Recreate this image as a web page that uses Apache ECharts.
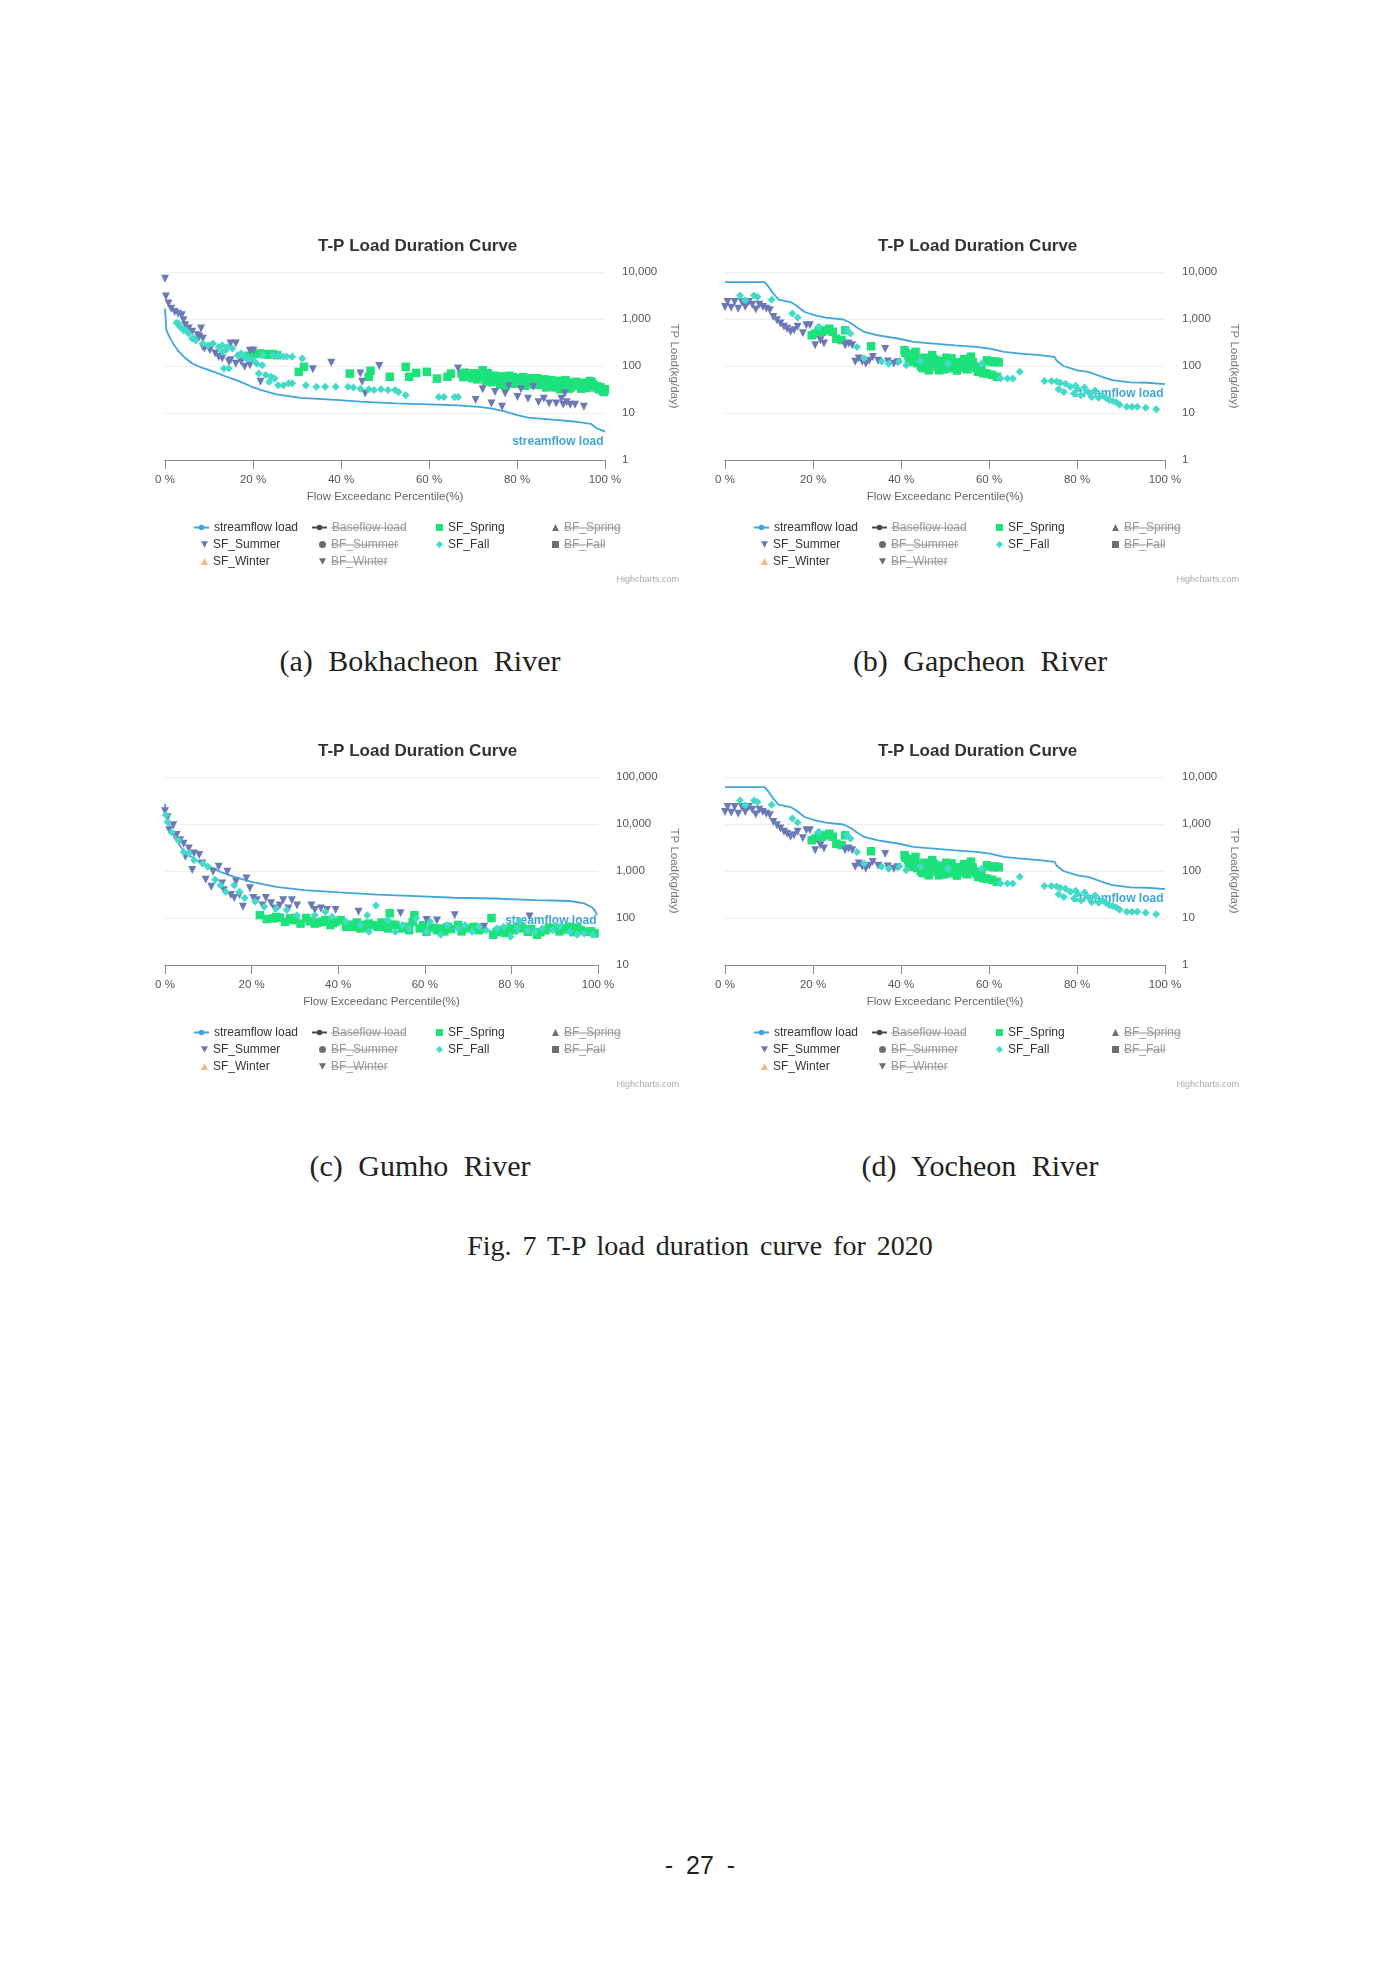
<!DOCTYPE html>
<html>
<head>
<meta charset="utf-8">
<script src="https://cdn.jsdelivr.net/npm/echarts@6/dist/echarts.min.js"></script>
<style>
  body { margin: 0; background: #fff; }
  #page { position: relative; width: 1400px; height: 1980px; background: #fff; }
  .chart { position: absolute; width: 560px; height: 370px; }
  .cap {
    position: absolute; white-space: nowrap; transform: translateX(-50%);
    font-family: "Liberation Serif", "DejaVu Serif", serif; color: #222;
    font-size: 30px; line-height: 32px; word-spacing: 8px;
  }
  .pnum { font-family: "Liberation Sans", sans-serif; font-size: 25px; word-spacing: 6px; }
</style>
</head>
<body>
<div id="page">
  <div id="chartA" class="chart" style="left:150px;top:230px"></div>
  <div id="chartB" class="chart" style="left:710px;top:230px"></div>
  <div id="chartC" class="chart" style="left:150px;top:735px"></div>
  <div id="chartD" class="chart" style="left:710px;top:735px"></div>

  <div class="cap" style="left:420px;top:645px">(a) Bokhacheon River</div>
  <div class="cap" style="left:980px;top:645px">(b) Gapcheon River</div>
  <div class="cap" style="left:420px;top:1150px">(c) Gumho River</div>
  <div class="cap" style="left:980px;top:1150px">(d) Yocheon River</div>
  <div class="cap" style="left:700px;top:1230px;font-size:28px;word-spacing:4px">Fig. 7 T-P load duration curve for 2020</div>
  <div class="cap pnum" style="left:700px;top:1849px">- 27 -</div>
</div>

<script>
// ---- data: [flow exceedance %, TP load kg/day] ----

// (a) Bokhacheon River
var bokLine = [[0,1660],[0.3,600],[0.6,500],[1.4,355],[2.2,270],[3.0,210],[4.5,150],[6.2,113],[8.0,95],[11.0,76],
  [13.4,62],[16.9,47],[19.5,37],[21.7,31],[25.3,25],[30.8,21],[38.8,19],[44.4,17.5],[52.3,16],[60,15.3],
  [66.6,14.5],[71.4,13.5],[74,12.5],[77,11],[80.1,9],[82.5,8],[88,7.2],[92.8,6.6],[96.8,5.9],[98,4.8],[100,4.0]];
var bokSummer = [[0,7200],[0.2,3000],[0.8,2130],[1.4,1660],[2.2,1410],[3.0,1290],[3.8,1200],[4.2,940],[4.6,740],
  [5.4,630],[6.2,535],[7.4,450],[7.8,415],[8.2,625],[8.6,380],[8.6,255],[9.0,235],[10.2,217],[11.4,185],[12.2,155],
  [13.0,145],[14.5,123],[14.9,300],[14.9,133],[16.1,112],[16.1,300],[17.3,123],[18.1,96],[19.3,210],[19.3,104],
  [20.1,215],[21.7,46],[33.6,85],[37.8,117],[44.4,69],[44.8,46],[45.5,26],[48.7,100],[66.6,89],[70.6,19],[72.2,32],
  [74.2,16],[75.0,28],[76.6,13.5],[77.3,26],[78.1,37],[80.1,22],[80.9,32],[82.5,20],[83.7,36],[84.9,17],[86.1,20],
  [87.3,16],[88.9,16],[90.1,20],[90.5,15],[90.9,26],[91.3,17],[92.1,15],[93.2,15],[95.2,13.5]];
var bokSpring = [[19.0,165],[20.0,180],[21.5,185],[22.5,180],[23.5,175],[24.5,180],[25.5,170],[30.4,75],[31.6,96],
  [42.0,69],[46.3,59],[46.7,79],[51.1,59],[54.7,96],[55.5,59],[57.1,71],[59.5,75],[61.8,54],[64.2,59],[65.0,69],
  [67.4,69],[68.2,72],[69.0,62],[69.8,55],[70.6,66],[71.4,60],[72.2,81],[73.0,48],[73.8,52],[74.6,58],[75.4,50],
  [76.2,40],[77.0,45],[77.8,55],[78.6,50],[79.4,42],[80.2,55],[81.0,48],[81.8,38],[82.6,52],[83.4,45],[84.2,50],
  [85.0,40],[85.8,48],[86.6,35],[87.4,45],[88.2,38],[89.0,42],[89.8,32],[90.6,40],[91.4,45],[92.2,35],[93.0,38],
  [93.8,42],[94.6,33],[95.4,38],[96.2,40],[97.0,45],[97.8,35],[98.6,32],[99.4,30],[100,32],
  [67.8,58],[68.6,65],[70.2,70],[71.0,52],[72.6,62],[73.4,70],[74.2,45],[75.0,62],[75.8,55],[76.6,60],[77.4,38],
  [78.2,62],[79.0,58],[79.8,50],[80.6,45],[81.4,58],[82.2,44],[83.0,55],[83.8,40],[84.6,55],[85.4,44],[86.2,52],
  [87.0,40],[87.8,50],[88.6,35],[89.4,48],[90.2,37],[91.0,50],[91.8,33],[92.6,42],[93.4,46],[94.2,38],[95.0,44],
  [95.8,34],[96.6,48],[97.4,40],[98.2,37],[99.0,35],[99.8,28]];
var bokFall = [[2.6,830],[3.0,800],[3.4,680],[4.2,575],[4.6,580],[5.4,490],[6.2,380],[6.6,385],[7.0,355],[8.6,300],
  [9.8,275],[10.9,300],[12.2,255],[13.0,200],[13.0,275],[13.8,217],[14.1,255],[15.3,235],[16.5,170],[16.9,170],
  [17.3,185],[18.1,155],[18.5,145],[18.9,145],[20.1,132],[20.9,112],[22.1,104],[22.2,170],[24.5,170],[25.7,165],
  [26.9,160],[27.7,160],[28.9,158],[13.4,89],[14.5,89],[21.3,69],[22.9,64],[24.1,59],[24.9,54],[23.7,46],[25.7,39],
  [26.9,39],[28.1,43],[28.9,43],[31.2,145],[32.0,39],[34.4,36],[36.4,36],[38.8,36],[41.6,36],[42.8,35],[44.4,33],
  [46.3,32],[47.5,31],[49.1,32],[50.7,31],[52.3,31],[53.1,28],[54.7,24],[62.2,22],[63.4,22],[65.8,22],[66.6,22]];

// (b) Gapcheon River
var gapLine = [[0,6100],[9.0,6100],[9.8,5000],[11.0,3460],[12.2,2570],[14.9,2290],[16.1,1960],[18.1,1410],
  [20.5,1200],[22.9,1070],[26.9,975],[28.5,830],[30.0,660],[31.6,535],[34.8,450],[39.6,380],[42.8,325],[47.5,300],
  [52.3,275],[57.1,255],[60.2,235],[63.4,200],[66.6,185],[71.4,170],[74.9,156],[75.4,129],[76.9,100],[80.1,81],
  [82.5,75],[85.7,59],[88.1,50],[92.1,45],[96.0,44],[100,41]];
var gapSummer = [[0,1800],[0.6,2300],[1.4,1740],[2.2,2300],[3.0,1660],[3.8,2300],[4.6,1800],[5.4,2300],[6.2,2000],
  [7.0,1590],[7.8,2000],[8.6,1800],[9.4,1660],[10.2,1530],[11.0,1100],[11.8,940],[12.6,800],[13.4,680],[14.1,620],
  [14.9,535],[15.7,575],[16.5,680],[17.7,500],[18.5,740],[19.3,740],[20.5,275],[21.7,355],[22.5,300],[27.3,275],
  [28.1,300],[28.9,275],[29.6,123],[30.4,145],[31.2,123],[32.0,112],[32.8,130],[33.6,156],[34.8,130],[36.4,229],
  [37.0,125],[38.4,112],[39.2,120]];
var gapSpring = [[19.7,450],[20.5,490],[21.3,575],[22.0,535],[22.9,575],[23.7,620],[24.5,535],[25.3,380],[26.5,355],
  [27.3,575],[33.2,263],[40.8,217],[41.6,170],[42.4,180],[42.8,123],[43.7,115],[44.5,100],[45.3,150],[46.3,81],
  [47.1,170],[47.9,125],[48.7,81],[49.5,100],[50.7,110],[51.5,145],[52.3,95],[53.5,120],[54.7,90],[55.9,158],
  [56.7,98],[57.9,81],[59.5,132],[60.3,125],[61.4,125],[59.5,69],[61.8,59],
  [41.0,190],[41.8,140],[42.6,150],[43.3,200],[44.1,135],[44.9,90],[45.7,120],[46.5,110],[47.5,140],[48.3,95],
  [49.1,130],[49.9,85],[50.3,150],[51.1,90],[51.9,120],[52.7,80],[53.1,105],[53.9,95],[54.3,140],[55.1,85],
  [55.5,110],[56.3,120],[57.1,90],[57.5,75],[58.3,95],[58.7,70],[60.7,65],[61.0,120],[62.2,120]];
var gapFall = [[3.4,3170],[4.6,2500],[6.6,3170],[7.4,2950],[10.6,2570],[15.3,1310],[16.5,1070],[21.3,680],[27.7,575],
  [28.5,490],[30.0,255],[31.6,145],[35.6,125],[37.2,112],[39.6,125],[41.2,104],[44.4,125],[50.7,112],[58.3,112],
  [62.6,54],[64.2,54],[65.4,54],[67.0,75],[72.6,48],[74.2,48],[75.4,47],[75.8,32],[76.2,44],[77.0,28],[77.4,42],
  [78.5,36],[79.3,26],[79.7,38],[80.1,33],[80.9,24],[81.7,35],[82.5,28],[83.3,22],[84.1,30],[84.9,21],[85.7,24],
  [86.5,21],[87.3,19],[88.1,18],[88.9,17],[89.7,15],[91.3,13.5],[92.5,13.5],[93.7,13.5],[95.6,13],[98.0,12]];

// (c) Gumho River
var gumLine = [[0,27000],[0.2,15500],[1.0,9400],[2.3,4900],[3.9,3000],[5.5,2200],[7.9,1550],[10.3,1230],[12.8,960],
  [16.0,750],[20.0,590],[25.7,460],[32.1,390],[40.2,350],[49.1,315],[58.0,292],[66.9,270],[75.8,260],[85.5,240],
  [93.5,230],[96.8,205],[98.4,174],[99.2,148],[99.8,115]];
var gumSummer = [[0,18600],[0.6,14000],[1.0,7400],[1.9,9400],[2.7,5800],[3.5,4500],[4.3,3800],[4.7,2000],[5.5,3000],
  [6.3,1050],[6.7,2350],[7.9,2200],[8.6,1450],[9.4,650],[10.7,460],[11.1,960],[12.4,1230],[13.2,540],[13.6,390],
  [14.4,960],[15.2,310],[16.0,265],[16.4,590],[17.2,310],[18.0,174],[18.8,690],[19.6,430],[20.4,265],[21.2,240],
  [22.5,185],[23.3,265],[24.5,205],[25.3,160],[26.5,185],[27.3,240],[28.5,160],[29.3,240],[30.5,185],[33.8,185],
  [34.6,148],[36.0,160],[37.4,148],[39.4,148],[44.7,135],[54.4,126],[60.4,91],[62.8,88],[66.9,115],[73.7,65],[84.2,107]];
var gumSpring = [[21.9,115],[24.9,98],[26.5,101],[27.7,83],[28.9,98],[31.3,76],[32.6,100],[34.6,76],[36.2,83],
  [38.2,71],[39.4,83],[40.6,90],[41.8,65],[43.5,65],[45.1,60],[45.9,71],[47.1,76],[49.1,65],[50.7,65],[51.9,126],
  [53.2,71],[54.8,60],[56.4,55],[57.2,83],[57.6,115],[58.8,60],[60.4,51],[62.8,55],[65.3,65],[67.7,71],[70.1,60],
  [72.5,55],[75.4,100],[75.8,44],[77.4,55],[79.8,60],[81.8,65],[83.8,51],[85.9,44],[87.9,55],[90.3,60],[91.9,60],
  [93.5,65],[96.0,55],[97.6,51],[99.2,47],
  [23.5,95],[25.7,105],[29.7,90],[30.1,100],[33.4,85],[35.4,80],[37.0,90],[38.8,78],[42.6,72],[44.3,80],[46.5,62],
  [48.3,70],[50.0,80],[51.5,60],[52.5,72],[55.6,65],[59.6,70],[61.6,62],[63.6,60],[64.5,52],[66.1,58],[68.5,52],
  [71.3,65],[73.3,60],[76.6,50],[78.6,48],[80.6,55],[82.6,60],[84.6,58],[86.7,50],[88.7,62],[91.1,52],[92.7,57],
  [94.3,50],[95.2,62],[98.4,52]];
var gumFall = [[0.2,15500],[0.6,11000],[1.5,6700],[3.1,4500],[4.3,2550],[5.5,2350],[6.7,1700],[8.7,1450],[9.9,1230],
  [11.6,650],[12.8,500],[14.0,360],[16.0,500],[17.2,360],[18.4,265],[20.8,225],[22.9,174],[25.7,160],[28.1,148],
  [30.5,115],[34.6,115],[37.0,135],[38.6,106],[41.8,83],[45.1,71],[46.7,115],[47.1,51],[48.7,185],[51.5,90],[53.2,51],
  [54.8,71],[56.4,60],[58.0,98],[60.4,51],[61.2,83],[63.7,44],[65.3,71],[67.7,60],[69.3,71],[70.9,51],[72.5,65],
  [74.2,55],[76.6,60],[78.2,65],[79.8,40],[81.4,60],[82.0,83],[83.8,55],[85.5,51],[87.1,60],[89.5,55],[91.1,65],
  [93.5,51],[95.2,44],[96.8,47],[98.8,44]];

// (d) Yocheon River -- the published panel is identical to (b)
var yocLine = gapLine, yocSummer = gapSummer, yocSpring = gapSpring, yocFall = gapFall;

// ---- styling ----
var FONT = '"Liberation Sans", Arial, sans-serif';
var C = { line: '#3fa5dc', spring: '#1de27b', summer: '#6b7ab6', fall: '#41dbc8', winter: '#f7a35c', bf: '#4a4a4a' };
var TRI_DOWN = 'path://M0,0L10,0L5,9Z';

// legend laid out as Highcharts did: 4 columns, filled row by row
var legendCols = [
  ['streamflow load', 'SF_Summer', 'SF_Winter'],
  ['Baseflow load', 'BF_Summer', 'BF_Winter'],
  ['SF_Spring', 'SF_Fall'],
  ['BF_Spring', 'BF_Fall']
];
var hiddenNames = ['Baseflow load', 'BF_Summer', 'BF_Winter', 'BF_Spring', 'BF_Fall'];
var lineNames = ['streamflow load', 'Baseflow load'];
var textLeft = [63, 181, 298, 414];
var rowTop = [290.5, 307.5, 324.5];
var ROW_H = 14;

var measure = document.createElement('canvas').getContext('2d');
measure.font = '12px "Liberation Sans"';

function buildOption(d) {
  var legends = [], marks = [];
  legendCols.forEach(function (names, i) {
    names.forEach(function (n, r) {
      var w = lineNames.indexOf(n) >= 0 ? 15 : 7;
      var hidden = hiddenNames.indexOf(n) >= 0;
      legends.push({
        orient: 'vertical', left: textLeft[i] - w - 5, top: rowTop[r], padding: 0,
        itemWidth: w, itemHeight: 7,
        textStyle: { fontFamily: FONT, fontSize: 12, color: hidden ? '#9a9a9a' : '#333', lineHeight: ROW_H },
        data: [n]
      });
      if (hidden) {
        var y = rowTop[r] + ROW_H / 2 + 0.5;
        marks.push({
          type: 'line', silent: true,
          shape: { x1: textLeft[i], y1: y, x2: textLeft[i] + measure.measureText(n).width, y2: y },
          style: { stroke: '#9a9a9a', lineWidth: 1 }
        });
      }
    });
  });
  marks.push({
    type: 'text', right: 31, top: 345,
    style: { text: 'Highcharts.com', fill: '#aaa', font: '9px ' + FONT }
  });

  return {
    animation: false,
    title: {
      text: 'T-P Load Duration Curve', left: 168, top: 8, padding: 0,
      textStyle: { fontFamily: FONT, fontSize: 17, fontWeight: 'bold', color: '#333' }
    },
    grid: { left: 15, top: 42, width: d.plotW, height: 188 },
    legend: legends,
    graphic: marks,
    xAxis: {
      type: 'value', min: 0, max: 100, interval: 20,
      name: 'Flow Exceedanc Percentile(%)', nameLocation: 'middle', nameGap: 30,
      nameTextStyle: { fontFamily: FONT, fontSize: 11.5, color: '#666' },
      axisLine: { show: true, onZero: false, lineStyle: { color: '#8a8a8a', width: 1 } },
      axisTick: { show: true, length: 9, lineStyle: { color: '#8a8a8a' } },
      axisLabel: { formatter: '{value} %', fontFamily: FONT, fontSize: 11.5, color: '#555', margin: 14 },
      splitLine: { show: false }
    },
    yAxis: {
      type: 'log', logBase: 10, min: d.yMin, max: d.yMax, position: 'right',
      name: 'TP Load(kg/day)', nameLocation: 'middle', nameRotate: -90, nameGap: 52,
      nameTextStyle: { fontFamily: FONT, fontSize: 11.5, color: '#777' },
      axisLine: { show: false }, axisTick: { show: false },
      axisLabel: {
        fontFamily: FONT, fontSize: 11.5, color: '#555', margin: d.labelMargin,
        formatter: function (v) { return Math.round(v).toLocaleString('en-US'); }
      },
      splitLine: { show: true, lineStyle: { color: '#efefef', width: 1 } }
    },
    series: [
      {
        name: 'streamflow load', type: 'line', data: d.line, symbol: 'circle', symbolSize: 7,
        showSymbol: false, lineStyle: { width: 1.8, color: C.line }, itemStyle: { color: C.line }, z: 2,
        markPoint: {
          symbol: 'circle', symbolSize: 1, itemStyle: { color: 'rgba(0,0,0,0)' },
          data: [{ coord: [100, d.labelY] }],
          label: {
            show: true, position: 'left', distance: 1, formatter: 'streamflow load',
            fontFamily: FONT, fontSize: 12, fontWeight: 'bold', color: C.line
          }
        }
      },
      { name: 'Baseflow load', type: 'line', data: [], symbol: 'circle', itemStyle: { color: C.bf }, lineStyle: { color: C.bf } },
      { name: 'SF_Spring', type: 'scatter', data: d.spring, symbol: 'rect', symbolSize: 8.5, itemStyle: { color: C.spring, opacity: 1 }, z: 3 },
      { name: 'BF_Spring', type: 'scatter', data: [], symbol: 'triangle', itemStyle: { color: C.bf } },
      { name: 'SF_Summer', type: 'scatter', data: d.summer, symbol: TRI_DOWN, symbolSize: 8, itemStyle: { color: C.summer, opacity: 1 }, z: 4 },
      { name: 'BF_Summer', type: 'scatter', data: [], symbol: 'circle', itemStyle: { color: C.bf } },
      { name: 'SF_Fall', type: 'scatter', data: d.fall, symbol: 'diamond', symbolSize: 8, itemStyle: { color: C.fall, opacity: 1 }, z: 5 },
      { name: 'BF_Fall', type: 'scatter', data: [], symbol: 'rect', itemStyle: { color: C.bf } },
      { name: 'SF_Winter', type: 'scatter', data: [], symbol: 'triangle', itemStyle: { color: C.winter } },
      { name: 'BF_Winter', type: 'scatter', data: [], symbol: TRI_DOWN, itemStyle: { color: C.bf } }
    ]
  };
}

var panels = [
  { id: 'chartA', line: bokLine, summer: bokSummer, spring: bokSpring, fall: bokFall, yMin: 1, yMax: 10000, plotW: 440, labelMargin: 17, labelY: 2.4 },
  { id: 'chartB', line: gapLine, summer: gapSummer, spring: gapSpring, fall: gapFall, yMin: 1, yMax: 10000, plotW: 440, labelMargin: 17, labelY: 26 },
  { id: 'chartC', line: gumLine, summer: gumSummer, spring: gumSpring, fall: gumFall, yMin: 10, yMax: 100000, plotW: 433, labelMargin: 18, labelY: 89 },
  { id: 'chartD', line: yocLine, summer: yocSummer, spring: yocSpring, fall: yocFall, yMin: 1, yMax: 10000, plotW: 440, labelMargin: 17, labelY: 26 }
];

panels.forEach(function (p) {
  var chart = echarts.init(document.getElementById(p.id), null, { renderer: 'canvas' });
  chart.setOption(buildOption(p));
});
</script>
</body>
</html>
